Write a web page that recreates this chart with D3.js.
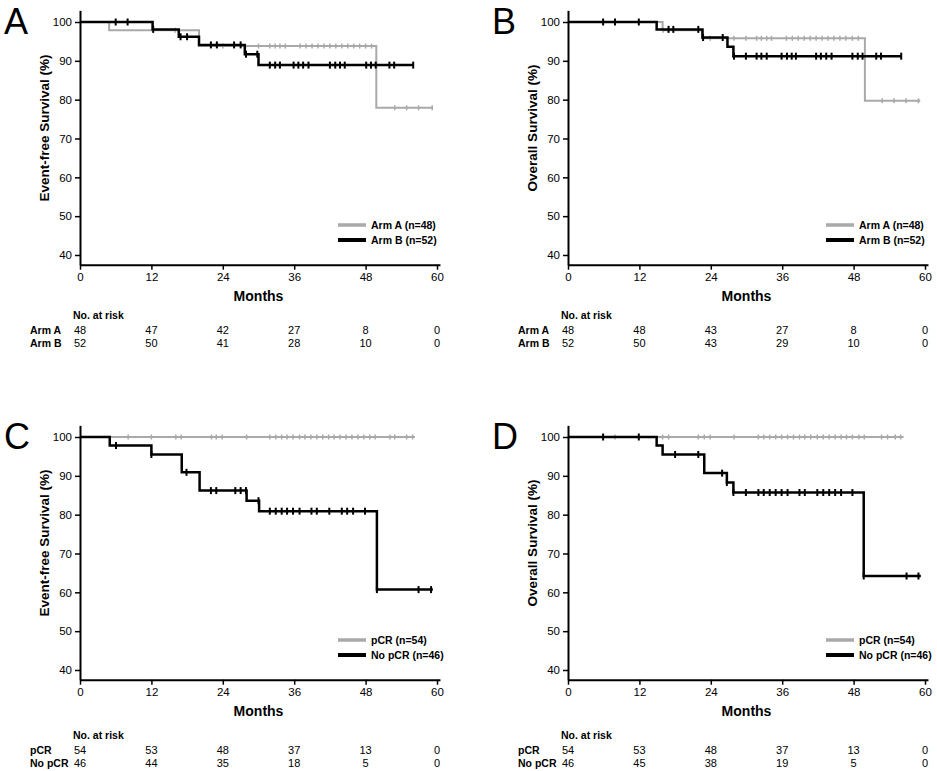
<!DOCTYPE html>
<html><head><meta charset="utf-8">
<script src="https://cdn.jsdelivr.net/npm/d3@7/dist/d3.min.js"></script>
<style>body{margin:0;background:#fff}svg{display:block;font-family:"Liberation Sans",Arial,sans-serif}</style>
</head><body><svg id="c" width="937" height="771"></svg>
<script>
// ---------- data ----------
const xTicks = [0, 12, 24, 36, 48, 60];
const yTicks = [40, 50, 60, 70, 80, 90, 100];

// Panel A (Event-free survival by arm)
const A_armA_t = [0, 4.9, 20.0, 49.8, 59.3];
const A_armA_s = [100, 97.9, 93.8, 77.9, 77.9];
const A_armA_c = [16, 24, 30, 31.9, 32.8, 33.6, 34.5, 37, 38, 39, 40, 41, 42, 43, 44, 45, 46, 47, 48, 49, 52.9, 54.9, 56.9, 59.2];
const A_armB_t = [0, 12.2, 16.6, 20.0, 27.7, 30.0, 56];
const A_armB_s = [100, 98.1, 96.2, 94.1, 91.7, 88.9, 88.9];
const A_armB_c = [6, 8, 12.3, 16.9, 18, 22, 23, 25.9, 27, 27.9, 29.8, 31.9, 32.8, 33.6, 35.9, 36.7, 37.5, 38.4, 42, 42.9, 43.7, 44.5, 48.1, 48.9, 49.7, 52, 52.8, 56];

// Panel B (Overall survival by arm)
const B_armA_t = [0, 15.9, 22.6, 49.9, 59.2];
const B_armA_s = [100, 97.9, 95.8, 79.7, 79.7];
const B_armA_c = [16, 23.9, 27.9, 29.9, 31.7, 32.5, 33.4, 34.2, 36.7, 37.7, 38.7, 39.7, 40.7, 41.7, 42.7, 43.7, 44.7, 45.7, 46.7, 47.8, 48.8, 52.8, 54.8, 56.8, 58.9];
const B_armB_t = [0, 14.9, 22.6, 26.8, 27.8, 56];
const B_armB_s = [100, 98.1, 96.0, 93.6, 91.2, 91.2];
const B_armB_c = [5.9, 7.9, 11.9, 16.9, 17.7, 21.9, 22.7, 26, 27.9, 29.9, 31.7, 32.5, 33.4, 35.9, 36.8, 37.6, 38.3, 41.7, 42.5, 43.4, 44.3, 47.8, 48.7, 49.5, 51.8, 52.6, 56];

// Panel C (Event-free survival by pCR)
const C_pcr_t = [0, 56.3];
const C_pcr_s = [100, 100];
const C_pcr_c = [8.1, 12.0, 16.1, 17.0, 22.1, 22.9, 23.9, 28.0, 31.9, 32.9, 33.9, 34.8, 35.8, 36.9, 37.8, 38.8, 39.8, 40.8, 41.8, 42.7, 43.7, 44.7, 45.7, 46.7, 47.7, 48.7, 49.6, 52.1, 52.9, 54.9, 55.9];
const C_nopcr_t = [0, 5.0, 12.0, 17.1, 20.1, 28.0, 30.1, 49.9, 59.3];
const C_nopcr_s = [100, 97.8, 95.5, 90.9, 86.2, 83.6, 80.9, 60.7, 60.7];
const C_nopcr_c = [6.05, 12.0, 17.9, 22, 22.9, 26.1, 27.0, 27.9, 30.0, 31.9, 32.9, 33.9, 34.8, 35.8, 36.9, 38.9, 39.8, 41.9, 44.0, 44.9, 45.9, 47.9, 49.9, 56.9, 59.0];

// Panel D (Overall survival by pCR)
const D_pcr_t = [0, 56.4];
const D_pcr_s = [100, 100];
const D_pcr_c = [7.9, 15.9, 16.9, 21.9, 22.9, 23.9, 27.9, 32.0, 32.9, 33.9, 34.9, 35.9, 36.9, 37.9, 38.9, 39.8, 40.8, 41.9, 42.9, 43.9, 44.9, 45.9, 46.8, 47.8, 48.9, 49.8, 52.7, 53.7, 55.0, 55.9];
const D_nopcr_t = [0, 14.9, 15.9, 22.9, 26.7, 27.8, 49.7, 59.3];
const D_nopcr_s = [100, 97.8, 95.5, 90.7, 88.3, 85.7, 64.2, 64.2];
const D_nopcr_c = [5.9, 11.9, 18.0, 21.9, 25.9, 26.7, 27.8, 29.9, 32.0, 32.9, 33.9, 34.9, 35.9, 36.9, 38.9, 39.8, 41.9, 42.9, 43.9, 44.9, 45.9, 47.8, 49.7, 56.9, 58.9];

// Numbers at risk
const A_risk_armA = [48, 47, 42, 27, 8, 0];
const A_risk_armB = [52, 50, 41, 28, 10, 0];
const B_risk_armA = [48, 48, 43, 27, 8, 0];
const B_risk_armB = [52, 50, 43, 29, 10, 0];
const C_risk_pcr = [54, 53, 48, 37, 13, 0];
const C_risk_nopcr = [46, 44, 35, 18, 5, 0];
const D_risk_pcr = [54, 53, 48, 37, 13, 0];
const D_risk_nopcr = [46, 45, 38, 19, 5, 0];

const armLabels = ["Arm A", "Arm B"];
const pcrLabels = ["pCR", "No pCR"];
const armLegend = ["Arm A (n=48)", "Arm B (n=52)"];
const pcrLegend = ["pCR (n=54)", "No pCR (n=46)"];

// ---------- drawing ----------
const GRAY = "#a9a9a9", BLACK = "#000";
const svg = d3.select("#c");

const panels = [
  {letter:"A", dx:0, dy:0, tdy:0, ylab:"Event-free Survival (%)", legend:armLegend, rows:armLabels,
   series:[[A_armA_t,A_armA_s,A_armA_c],[A_armB_t,A_armB_s,A_armB_c]], risk:[A_risk_armA,A_risk_armB]},
  {letter:"B", dx:488, dy:0, tdy:0, ylab:"Overall Survival (%)", legend:armLegend, rows:armLabels,
   series:[[B_armA_t,B_armA_s,B_armA_c],[B_armB_t,B_armB_s,B_armB_c]], risk:[B_risk_armA,B_risk_armB]},
  {letter:"C", dx:0, dy:415, tdy:420, ylab:"Event-free Survival (%)", legend:pcrLegend, rows:pcrLabels,
   series:[[C_pcr_t,C_pcr_s,C_pcr_c],[C_nopcr_t,C_nopcr_s,C_nopcr_c]], risk:[C_risk_pcr,C_risk_nopcr]},
  {letter:"D", dx:488, dy:415, tdy:420, ylab:"Overall Survival (%)", legend:pcrLegend, rows:pcrLabels,
   series:[[D_pcr_t,D_pcr_s,D_pcr_c],[D_nopcr_t,D_nopcr_s,D_nopcr_c]], risk:[D_risk_pcr,D_risk_nopcr]}
];

panels.forEach(p => {
  const g = svg.append("g").attr("transform", `translate(${p.dx},${p.dy})`);
  const x = d3.scaleLinear().domain([0, 60.5]).range([80, 80 + 60.5 * 5.95]);
  const y = d3.scaleLinear().domain([37.5, 103]).range([264.7, 10.35]);

  // panel letter
  g.append("text").attr("x", 4).attr("y", 34).attr("font-size", 36).text(p.letter);

  // axes
  const xa = g.append("g").attr("transform", `translate(0,${y(37.5)})`)
    .call(d3.axisBottom(x).tickValues(xTicks).tickSize(5).tickSizeOuter(0).tickPadding(3));
  const ya = g.append("g").attr("transform", `translate(${x(0)},0)`)
    .call(d3.axisLeft(y).tickValues(yTicks).tickSize(5).tickSizeOuter(0).tickPadding(3));
  [xa, ya].forEach(a => {
    a.select(".domain").attr("stroke-width", 2);
    a.selectAll(".tick line").attr("stroke-width", 1.5);
    a.selectAll("text").attr("font-size", 11.5).attr("font-family", "Liberation Sans, Arial, sans-serif").attr("fill", "#000");
  });

  // axis titles
  g.append("text").attr("transform", `translate(49,128) rotate(-90)`).attr("text-anchor", "middle")
    .attr("font-size", 13.5).attr("font-weight", "bold").text(p.ylab);
  g.append("text").attr("x", (x(0) + x(60)) / 2).attr("y", 301).attr("text-anchor", "middle")
    .attr("font-size", 14).attr("font-weight", "bold").text("Months");

  // curves
  const line = d3.line().x(d => x(d[0])).y(d => y(d[1])).curve(d3.curveStepAfter);
  p.series.forEach((s, i) => {
    const [t, v, c] = s;
    const pts = t.map((ti, k) => [ti, v[k]]);
    const col = i === 0 ? GRAY : BLACK;
    g.append("path").datum(pts).attr("d", line).attr("fill", "none")
      .attr("stroke", col).attr("stroke-width", i === 0 ? 2 : 2.5);
    const surv = m => { let val = v[0]; for (let k = 0; k < t.length; k++) if (t[k] <= m) val = v[k]; return val; };
    const h = i === 0 ? 2.5 : 3.5;
    g.selectAll(null).data(c).enter().append("line")
      .attr("x1", d => x(d)).attr("x2", d => x(d))
      .attr("y1", d => y(surv(d)) - h).attr("y2", d => y(surv(d)) + h)
      .attr("stroke", col).attr("stroke-width", i === 0 ? 1.5 : 2);
  });

  // legend
  p.legend.forEach((lab, i) => {
    const ly = 225 + i * 15;
    g.append("line").attr("x1", 338).attr("x2", 366).attr("y1", ly).attr("y2", ly)
      .attr("stroke", i === 0 ? GRAY : BLACK).attr("stroke-width", i === 0 ? 3.5 : 4);
    g.append("text").attr("x", 371).attr("y", ly + 4).attr("font-size", 10.5).attr("font-weight", "bold").text(lab);
  });

  // risk table
  const tg = svg.append("g").attr("transform", `translate(${p.dx},${p.tdy})`);
  tg.append("text").attr("x", 73).attr("y", 319).attr("font-size", 10.5).attr("font-weight", "bold").text("No. at risk");
  p.rows.forEach((r, i) => {
    const ry = 334 + i * 13;
    tg.append("text").attr("x", 30).attr("y", ry).attr("font-size", 10.5).attr("font-weight", "bold").text(r);
    tg.selectAll(null).data(p.risk[i]).enter().append("text")
      .attr("x", (d, k) => x(xTicks[k])).attr("y", ry).attr("text-anchor", "middle")
      .attr("font-size", 11).text(d => d);
  });
});
</script></body></html>
